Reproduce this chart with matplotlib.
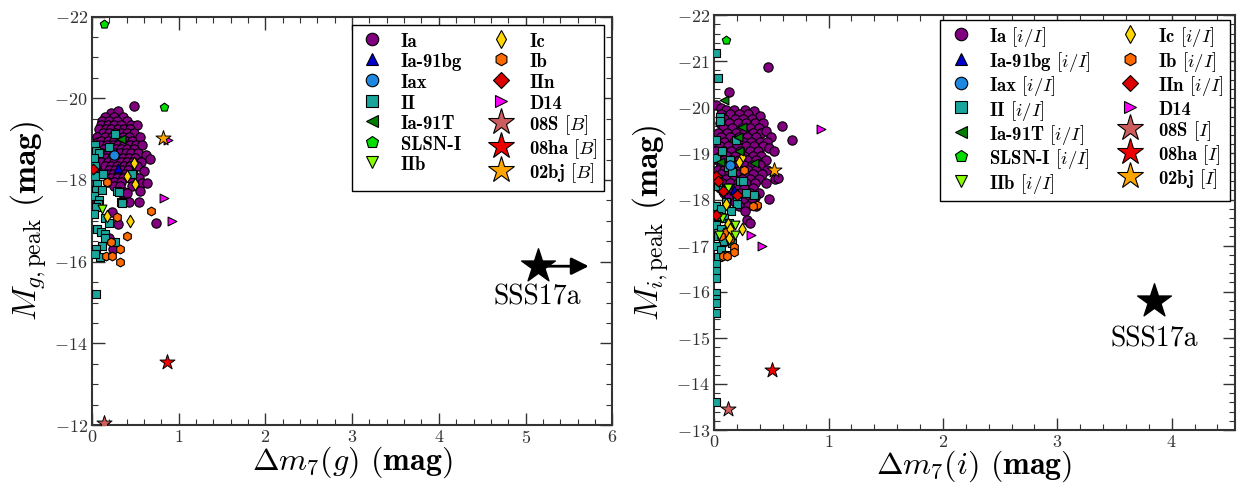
import matplotlib
matplotlib.use("Agg")
import matplotlib.pyplot as plt
from matplotlib.lines import Line2D
from matplotlib.ticker import MultipleLocator

plt.rcParams['mathtext.fontset'] = 'cm'
plt.rcParams['font.family'] = 'cmr10'
plt.rcParams['axes.formatter.use_mathtext'] = True
plt.rcParams['axes.unicode_minus'] = True

# ---- g band (left) : (dm7, M_peak) ----
g_ia = [
    (0.48, -19.80), (0.22, -19.65), (0.30, -19.68),
    (0.15, -19.55), (0.26, -19.55), (0.36, -19.55),
    (0.12, -19.45), (0.20, -19.45), (0.29, -19.45), (0.40, -19.45),
    (0.10, -19.35), (0.18, -19.35), (0.25, -19.35), (0.33, -19.35), (0.45, -19.35), (0.52, -19.35),
    (0.08, -19.25), (0.16, -19.25), (0.22, -19.25), (0.30, -19.25), (0.37, -19.25), (0.44, -19.25),
    (0.13, -19.15), (0.20, -19.15), (0.27, -19.15), (0.34, -19.15), (0.41, -19.15), (0.49, -19.15),
    (0.06, -19.05), (0.15, -19.05), (0.23, -19.05), (0.29, -19.05), (0.36, -19.05), (0.43, -19.05), (0.55, -19.05),
    (0.07, -18.93), (0.11, -18.95), (0.19, -18.95), (0.26, -18.95), (0.32, -18.95), (0.39, -18.95), (0.46, -18.95),
    (0.09, -18.85), (0.17, -18.85), (0.24, -18.85), (0.30, -18.85), (0.37, -18.85), (0.44, -18.85), (0.51, -18.85), (0.58, -18.85),
    (0.14, -18.75), (0.21, -18.75), (0.28, -18.75), (0.34, -18.75), (0.41, -18.75), (0.48, -18.75),
    (0.12, -18.65), (0.19, -18.65), (0.26, -18.65), (0.32, -18.65), (0.39, -18.65), (0.45, -18.65), (0.53, -18.65), (0.62, -18.62),
    (0.16, -18.55), (0.23, -18.55), (0.30, -18.55), (0.36, -18.55), (0.43, -18.55), (0.50, -18.55), (0.67, -18.52),
    (0.10, -18.45), (0.18, -18.45), (0.25, -18.45), (0.33, -18.45), (0.40, -18.45), (0.47, -18.45), (0.57, -18.45),
    (0.15, -18.35), (0.22, -18.35), (0.29, -18.35), (0.37, -18.35), (0.44, -18.35), (0.52, -18.35),
    (0.05, -18.25), (0.20, -18.25), (0.27, -18.25), (0.35, -18.25), (0.42, -18.25), (0.60, -18.22),
    (0.17, -18.15), (0.24, -18.15), (0.31, -18.15), (0.38, -18.15), (0.47, -18.15),
    (0.22, -18.05), (0.29, -18.05), (0.36, -18.05), (0.44, -18.05), (0.54, -18.05),
    (0.19, -17.95), (0.26, -17.95), (0.33, -17.95), (0.58, -17.92), (0.64, -17.92),
    (0.25, -17.85), (0.32, -17.85), (0.46, -17.85),
    (0.37, -17.70), (0.55, -17.72), (0.40, -17.68), (0.05, -17.50),
    (0.43, -17.45), (0.54, -17.45), (0.35, -17.48), (0.23, -17.22),
    (0.30, -16.93), (0.74, -16.95), (0.20, -16.58), (0.24, -16.32),
]
g_ii = [
    (0.03, -18.85), (0.20, -18.80), (0.05, -18.70), (0.08, -18.66), (0.02, -18.55), (0.27, -19.13),
    (0.04, -18.35), (0.03, -18.10), (0.13, -18.14), (0.46, -18.14), (0.06, -17.90),
    (0.05, -17.75), (0.12, -17.75), (0.29, -17.73), (0.02, -17.60), (0.08, -17.50),
    (0.33, -17.45), (0.07, -17.42), (0.05, -17.33), (0.31, -17.70), (0.35, -17.43),
    (0.02, -17.16), (0.15, -17.06), (0.20, -16.94), (0.06, -16.80), (0.11, -16.73),
    (0.15, -16.67), (0.15, -16.57), (0.27, -16.49), (0.12, -16.38), (0.05, -16.30),
    (0.09, -16.12), (0.04, -16.20), (0.05, -15.20),
]
g_ib = [
    (0.17, -17.95), (0.68, -17.23), (0.29, -17.10), (0.40, -16.62), (0.22, -16.48),
    (0.32, -16.30), (0.16, -16.13), (0.23, -16.13), (0.32, -15.99),
]
g_ic = [(0.48, -18.41), (0.40, -18.10), (0.50, -17.90), (0.44, -17.00), (0.17, -17.11)]
g_91bg = [(0.30, -18.30)]
g_iax = [(0.26, -18.60)]
g_91t = [(0.33, -19.00)]
g_slsn = [(0.14, -21.82), (0.83, -19.78)]
g_iib = [(0.12, -17.30)]
g_iin = [(0.01, -18.27)]
g_d14 = [(0.88, -18.97), (0.83, -17.56), (0.92, -17.00)]
g_08s = (0.14, -12.05)
g_08ha = (0.865, -13.55)
g_02bj = (0.815, -19.02)
g_sss = (5.14, -15.89)
g_sss_arrow_end = 5.76

# ---- i band (right) ----
i_ia = [
    (0.47, -20.87), (0.126, -20.33), (0.02, -20.05), (0.06, -19.99),
    (0.10, -19.95), (0.17, -19.95), (0.27, -19.95), (0.35, -19.92),
    (0.06, -19.85), (0.14, -19.85), (0.22, -19.85), (0.30, -19.85), (0.40, -19.82),
    (0.09, -19.75), (0.18, -19.75), (0.25, -19.75), (0.33, -19.75),
    (0.05, -19.65), (0.13, -19.65), (0.21, -19.65), (0.28, -19.65), (0.36, -19.65), (0.43, -19.65),
    (0.08, -19.55), (0.16, -19.55), (0.24, -19.55), (0.31, -19.55), (0.39, -19.55), (0.59, -19.60),
    (0.03, -19.45), (0.11, -19.45), (0.19, -19.45), (0.26, -19.45), (0.34, -19.45), (0.41, -19.45), (0.45, -19.48),
    (0.06, -19.35), (0.14, -19.35), (0.22, -19.35), (0.29, -19.35), (0.37, -19.35), (0.50, -19.35),
    (0.02, -19.25), (0.09, -19.25), (0.17, -19.25), (0.25, -19.25), (0.32, -19.25), (0.40, -19.25), (0.46, -19.25), (0.68, -19.29),
    (0.05, -19.15), (0.12, -19.15), (0.20, -19.15), (0.28, -19.15), (0.35, -19.15), (0.43, -19.15), (0.48, -19.11),
    (0.02, -19.05), (0.08, -19.05), (0.15, -19.05), (0.23, -19.05), (0.31, -19.05), (0.38, -19.05), (0.52, -19.05),
    (0.05, -18.95), (0.11, -18.95), (0.18, -18.95), (0.26, -18.95), (0.34, -18.95), (0.41, -18.95),
    (0.03, -18.85), (0.09, -18.85), (0.15, -18.85), (0.22, -18.85), (0.29, -18.85), (0.37, -18.85), (0.45, -18.85),
    (0.06, -18.75), (0.12, -18.75), (0.19, -18.75), (0.26, -18.75), (0.33, -18.75), (0.40, -18.75),
    (0.03, -18.65), (0.09, -18.65), (0.16, -18.65), (0.23, -18.65), (0.30, -18.65), (0.37, -18.65), (0.46, -18.65),
    (0.06, -18.55), (0.13, -18.55), (0.20, -18.55), (0.27, -18.55), (0.34, -18.55), (0.42, -18.55),
    (0.04, -18.45), (0.10, -18.45), (0.17, -18.45), (0.24, -18.45), (0.31, -18.45), (0.39, -18.45), (0.53, -18.45), (0.555, -18.47),
    (0.07, -18.35), (0.14, -18.35), (0.21, -18.35), (0.28, -18.35), (0.36, -18.35), (0.45, -18.35),
    (0.05, -18.25), (0.12, -18.25), (0.19, -18.25), (0.26, -18.25), (0.34, -18.25),
    (0.09, -18.15), (0.16, -18.15), (0.23, -18.15), (0.31, -18.15), (0.39, -18.15),
    (0.13, -18.05), (0.20, -18.05), (0.28, -18.05), (0.36, -18.05), (0.476, -18.01),
    (0.18, -17.95), (0.25, -17.95), (0.33, -17.95),
    (0.22, -17.85), (0.30, -17.85), (0.37, -17.85),
    (0.27, -17.75), (0.29, -17.55), (0.31, -17.50),
]
i_ii = [
    (0.018, -21.18), (0.03, -20.64), (0.047, -19.78), (0.05, -19.70), (0.19, -19.30),
    (0.017, -19.30), (0.02, -18.90), (0.14, -18.78), (0.07, -19.05), (0.14, -18.85),
    (0.12, -18.70), (0.16, -18.60), (0.23, -18.40), (0.25, -18.40), (0.03, -18.30),
    (0.08, -18.20), (0.28, -18.15), (0.35, -18.10), (0.20, -18.00), (0.10, -17.95),
    (0.20, -17.90), (0.02, -17.85), (0.06, -17.80), (0.15, -17.75), (0.03, -17.65),
    (0.09, -17.60), (0.13, -17.50), (0.02, -17.45), (0.06, -17.35), (0.11, -17.30),
    (0.03, -17.20), (0.08, -17.10), (0.16, -17.05), (0.02, -17.00), (0.06, -16.90),
    (0.10, -16.80), (0.03, -16.75), (0.02, -16.60), (0.02, -16.46), (0.02, -16.30),
    (0.02, -15.98), (0.02, -15.85), (0.02, -15.76), (0.02, -15.53), (0.02, -13.60),
]
i_ib = [
    (0.26, -18.64), (0.374, -17.89), (0.34, -17.85), (0.17, -16.97), (0.17, -16.87),
    (0.08, -16.78), (0.11, -16.78), (0.10, -17.30), (0.14, -17.15), (0.06, -17.20),
]
i_ic = [
    (0.24, -18.93), (0.22, -18.82), (0.10, -17.90), (0.12, -17.47), (0.135, -17.36),
    (0.24, -17.36), (0.13, -17.17),
]
i_91bg = [(0.17, -18.20)]
i_iax = [(0.14, -18.75)]
i_91t = [(0.09, -20.16), (0.24, -19.58), (0.21, -19.35), (0.22, -19.05), (0.05, -18.82), (0.35, -18.80)]
i_slsn = [(0.10, -21.45)]
i_iib = [(0.18, -17.22), (0.18, -17.44), (0.04, -17.22), (0.07, -17.60), (0.12, -18.25)]
i_iin = [(0.02, -18.50), (0.03, -18.40), (0.08, -18.19), (0.20, -18.10), (0.02, -17.67)]
i_d14 = [(0.93, -19.53), (0.325, -17.22), (0.415, -17.00)]
i_08s = (0.12, -13.45)
i_08ha = (0.51, -14.30)
i_02bj = (0.52, -18.65)
i_sss = (3.85, -15.79)

# class styles: marker, colour
styles = {
    'Ia': ('o', '#800080'),
    'Ia-91bg': ('^', '#0000cc'),
    'Iax': ('o', '#1e88e0'),
    'II': ('s', '#1aa59c'),
    'Ia-91T': ('<', '#008000'),
    'SLSN-I': ('p', '#00dd00'),
    'IIb': ('v', '#88ff00'),
    'Ic': ('d', '#ffd700'),
    'Ib': ('h', '#ff6a00'),
    'IIn': ('D', '#dd0000'),
    'D14': ('>', '#ff00ff'),
}
star_colors = {'08S': '#cd5c5c', '08ha': '#ee0000', '02bj': '#ffa500'}

fig = plt.figure(figsize=(12.42, 4.87), dpi=100)
axL = fig.add_axes([0.074, 0.127, 0.419, 0.839])
axR = fig.add_axes([0.575, 0.117, 0.419, 0.852])


def draw(ax, data, stars, sss, suffix, star_suffix, pad):
    sizes = {'o': 45, '^': 40, 's': 38, '<': 40, 'p': 40, 'v': 40, 'd': 40, 'h': 40, 'D': 30, '>': 40}
    for name in ['Ia', 'II', 'Ib', 'Ic', 'Ia-91bg', 'Iax', 'Ia-91T', 'SLSN-I', 'IIb', 'IIn', 'D14']:
        pts = data[name]
        m, c = styles[name]
        ax.scatter([p[0] for p in pts], [p[1] for p in pts], marker=m, s=sizes[m],
                   facecolor=c, edgecolor='black', linewidths=0.8, zorder=3)
    for name, pos in stars.items():
        ax.scatter([pos[0]], [pos[1]], marker='*', s=130, facecolor=star_colors[name],
                   edgecolor='black', linewidths=0.7, zorder=4)
    ax.scatter([sss[0]], [sss[1]], marker='*', s=650, color='black', zorder=5)

    handles = []
    left_col = ['Ia', 'Ia-91bg', 'Iax', 'II', 'Ia-91T', 'SLSN-I', 'IIb']
    right_col = ['Ic', 'Ib', 'IIn', 'D14']
    for name in left_col + right_col:
        m, c = styles[name]
        lab = name if name == 'D14' else name + suffix
        handles.append(Line2D([], [], linestyle='none', marker=m, markersize=9 if m != 'D' else 8,
                              markerfacecolor=c, markeredgecolor='black', markeredgewidth=0.8, label=lab))
    for name in ['08S', '08ha', '02bj']:
        handles.append(Line2D([], [], linestyle='none', marker='*', markersize=20,
                              markerfacecolor=star_colors[name], markeredgecolor='black',
                              markeredgewidth=0.8, label=name + star_suffix))
    leg = ax.legend(handles=handles, ncol=2, loc='upper right', prop={'family': 'cmb10', 'size': 13.5},
                    frameon=True, fancybox=False, edgecolor='black', framealpha=1,
                    labelspacing=0.02, handleheight=1.25, handlelength=1.6, handletextpad=0.7,
                    columnspacing=1.3, borderpad=0.3, borderaxespad=pad)
    leg.get_frame().set_linewidth(1.0)

    ax.tick_params(which='both', direction='in', top=True, right=True, labelsize=13, colors='#333333')
    ax.tick_params(which='major', length=9, width=1.0, pad=3)
    ax.tick_params(which='minor', length=4.5, width=0.8)
    for sp in ax.spines.values():
        sp.set_linewidth(1.5)
        sp.set_color('#333333')


draw(axL, {'Ia': g_ia, 'II': g_ii, 'Ib': g_ib, 'Ic': g_ic, 'Ia-91bg': g_91bg, 'Iax': g_iax,
           'Ia-91T': g_91t, 'SLSN-I': g_slsn, 'IIb': g_iib, 'IIn': g_iin, 'D14': g_d14},
     {'08S': g_08s, '08ha': g_08ha, '02bj': g_02bj}, g_sss, '', r' $[B]$', 0.45)
draw(axR, {'Ia': i_ia, 'II': i_ii, 'Ib': i_ib, 'Ic': i_ic, 'Ia-91bg': i_91bg, 'Iax': i_iax,
           'Ia-91T': i_91t, 'SLSN-I': i_slsn, 'IIb': i_iib, 'IIn': i_iin, 'D14': i_d14},
     {'08S': i_08s, '08ha': i_08ha, '02bj': i_02bj}, i_sss, r' $[i/I]$', r' $[I]$', 0.25)

# left panel
axL.annotate('', xy=(g_sss_arrow_end, g_sss[1]), xytext=(g_sss[0], g_sss[1]),
             arrowprops=dict(arrowstyle='-|>', color='black', lw=2, mutation_scale=26), zorder=5)
axL.text(g_sss[0], g_sss[1] + 0.75, 'SSS17a', ha='center', va='center', fontsize=20)
axL.set_xlim(0, 6)
axL.set_ylim(-12, -22)
axL.xaxis.set_major_locator(MultipleLocator(1))
axL.xaxis.set_minor_locator(MultipleLocator(0.2))
axL.yaxis.set_major_locator(MultipleLocator(2))
axL.yaxis.set_minor_locator(MultipleLocator(0.5))
axL.set_xlabel(r'$\Delta m_7(g)$ $\mathbf{(mag)}$', fontsize=23, labelpad=-1)
axL.set_ylabel(r'$M_{g,\rm peak}$ $\mathbf{(mag)}$', fontsize=24, labelpad=4)

# right panel
axR.text(i_sss[0], i_sss[1] + 0.82, 'SSS17a', ha='center', va='center', fontsize=20)
axR.set_xlim(0, 4.55)
axR.set_ylim(-13, -22)
axR.xaxis.set_major_locator(MultipleLocator(1))
axR.xaxis.set_minor_locator(MultipleLocator(0.2))
axR.yaxis.set_major_locator(MultipleLocator(1))
axR.yaxis.set_minor_locator(MultipleLocator(0.2))
axR.set_xlabel(r'$\Delta m_7(i)$ $\mathbf{(mag)}$', fontsize=23, labelpad=-1)
axR.set_ylabel(r'$M_{i,\rm peak}$ $\mathbf{(mag)}$', fontsize=24, labelpad=4)

fig.savefig('out.png', dpi=100)
